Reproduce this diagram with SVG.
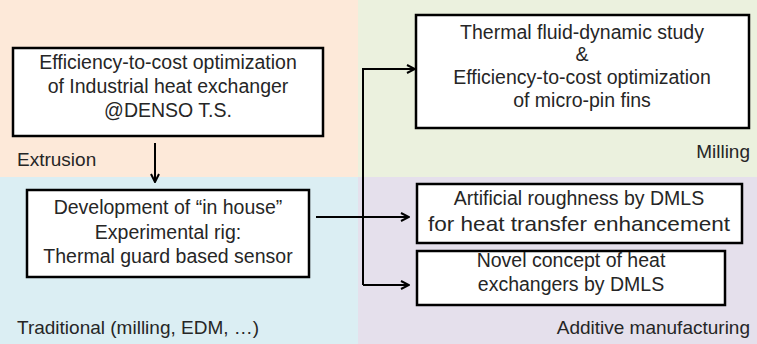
<svg xmlns="http://www.w3.org/2000/svg" width="757" height="344" viewBox="0 0 757 344">
<defs>
<marker id="arr" viewBox="0 0 10 10" refX="9" refY="5" markerWidth="10" markerHeight="10" markerUnits="userSpaceOnUse" orient="auto">
<path d="M1,1 L9,5 L1,9" fill="none" stroke="#000" stroke-width="2"/>
</marker>
</defs>
<style>
.box{fill:#fff;stroke:#000;stroke-width:2.5}
.t{font-family:"Liberation Sans",Arial,sans-serif;font-size:19.5px;fill:#262626;text-anchor:middle}
.l{font-family:"Liberation Sans",Arial,sans-serif;font-size:19px;fill:#262626}
.c{fill:none;stroke:#000;stroke-width:2}
</style>
<g id="background">
<rect x="0" y="0" width="358" height="177" fill="#FDE9D9"/>
<rect x="358" y="0" width="399" height="177" fill="#EBF1DE"/>
<rect x="0" y="177" width="358" height="167" fill="#DBEEF3"/>
<rect x="358" y="177" width="399" height="167" fill="#E5E0EC"/>
</g>
<g id="labels">
<text class="l" x="17" y="166">Extrusion</text>
<text class="l" x="750" y="158" text-anchor="end">Milling</text>
<text class="l" x="17" y="334">Traditional (milling, EDM, …)</text>
<text class="l" x="750" y="334" text-anchor="end">Additive manufacturing</text>
</g>
<g id="connectors">
<line class="c" x1="155" y1="143" x2="155" y2="182" marker-end="url(#arr)"/>
<polyline class="c" points="363,285 363,69 415,69" marker-end="url(#arr)"/>
<line class="c" x1="316" y1="217" x2="409" y2="217" marker-end="url(#arr)"/>
<line class="c" x1="363" y1="285" x2="409" y2="285" marker-end="url(#arr)"/>
</g>
<g id="node-denso">
<rect class="box" x="13" y="48" width="310" height="88"/>
<text class="t" x="168" y="69">Efficiency-to-cost optimization</text>
<text class="t" x="168" y="93">of Industrial heat exchanger</text>
<text class="t" x="168" y="117">@DENSO T.S.</text>
</g>
<g id="node-rig">
<rect class="box" x="27" y="190" width="282" height="87"/>
<text class="t" x="168" y="214">Development of “in house”</text>
<text class="t" x="168" y="239">Experimental rig:</text>
<text class="t" x="168" y="263">Thermal guard based sensor</text>
</g>
<g id="node-thermal">
<rect class="box" x="416" y="15" width="333" height="113"/>
<text class="t" x="582" y="39">Thermal fluid-dynamic study</text>
<text class="t" x="582" y="61">&amp;</text>
<text class="t" x="582" y="84">Efficiency-to-cost optimization</text>
<text class="t" x="582" y="107">of micro-pin fins</text>
</g>
<g id="node-roughness">
<rect class="box" x="417" y="184" width="325" height="59"/>
<text class="t" x="579" y="205">Artificial roughness by DMLS</text>
<text class="t" x="579" y="231" style="font-size:21px" textLength="302" lengthAdjust="spacingAndGlyphs">for heat transfer enhancement</text>
</g>
<g id="node-novel">
<rect class="box" x="417" y="251" width="308" height="54"/>
<text class="t" x="571" y="267">Novel concept of heat</text>
<text class="t" x="571" y="291">exchangers by DMLS</text>
</g>
</svg>
